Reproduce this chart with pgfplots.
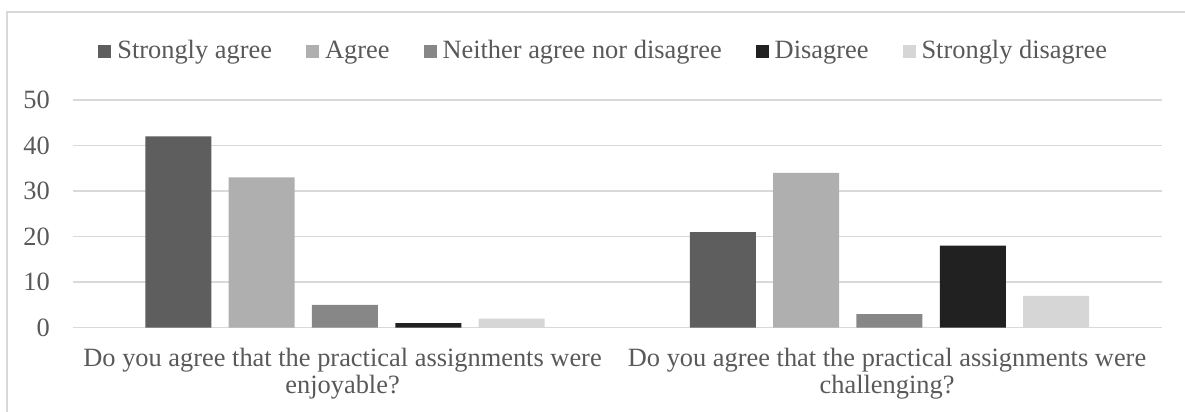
\documentclass[border=0pt]{standalone}
\usepackage{fontspec}
\setmainfont{Liberation Serif}
\usepackage{pgfplots}
\pgfplotsset{compat=1.18}

\definecolor{sagree}{HTML}{5E5E5E}
\definecolor{agree}{HTML}{AFAFAF}
\definecolor{neither}{HTML}{878787}
\definecolor{disagree}{HTML}{212121}
\definecolor{sdisagree}{HTML}{D6D6D6}
\definecolor{gridgray}{HTML}{D9D9D9}
\definecolor{textgray}{HTML}{595959}

\newcommand{\chartfont}{\fontsize{13.2pt}{13.6pt}\selectfont}

\begin{document}
\begin{tikzpicture}
  % page frame and chart border
  \useasboundingbox (0,0) rectangle (592.5pt,-206pt);
  \draw[gridgray, line width=0.6pt] (3.5pt,-206pt) -- (3.5pt,-6pt) -- (592.5pt,-6pt);

  \begin{axis}[
    at={(36.35pt,-163.85pt)}, anchor=south west,
    scale only axis, width=544.5pt, height=113.85pt,
    ybar=8.65pt, bar width=33pt,
    xmin=-0.5, xmax=1.5, ymin=0, ymax=50,
    xtick={0,1},
    xticklabels={{Do you agree that the practical assignments were\\enjoyable?},
                 {Do you agree that the practical assignments were\\challenging?}},
    ytick={0,10,20,30,40,50},
    ymajorgrids, grid style={gridgray, line width=0.7pt},
    axis line style={draw=none},
    major tick length=0pt,
    font=\chartfont,
    /pgf/number format/assume math mode=true,
    tick label style={text=textgray, font=\chartfont},
    yticklabel style={anchor=east, inner sep=0pt, xshift=-11.3pt},
    xticklabel style={anchor=north, align=center, inner sep=0pt, yshift=-10pt, xshift=-1.2pt},
    legend columns=-1,
    legend style={draw=none, fill=none, font=\chartfont, text=textgray,
      at={(rel axis cs:0.5,1)}, anchor=center, xshift=-7.25pt, yshift=24.5pt,
      nodes={inner sep=0pt},
      /tikz/every odd column/.style={column sep=3pt},
      /tikz/every even column/.style={column sep=17pt}},
    legend image code/.code={\fill[#1] (0pt,-3.25pt) rectangle (6.5pt,3.25pt);},
  ]
    \addplot[fill=sagree, draw=none] coordinates {(0,42) (1,21)};
    \addplot[fill=agree, draw=none] coordinates {(0,33) (1,34)};
    \addplot[fill=neither, draw=none] coordinates {(0,5) (1,3)};
    \addplot[fill=disagree, draw=none] coordinates {(0,1) (1,18)};
    \addplot[fill=sdisagree, draw=none] coordinates {(0,2) (1,7)};
    \legend{Strongly agree, Agree, Neither agree nor disagree, Disagree, Strongly disagree}
  \end{axis}
\end{tikzpicture}
\end{document}
